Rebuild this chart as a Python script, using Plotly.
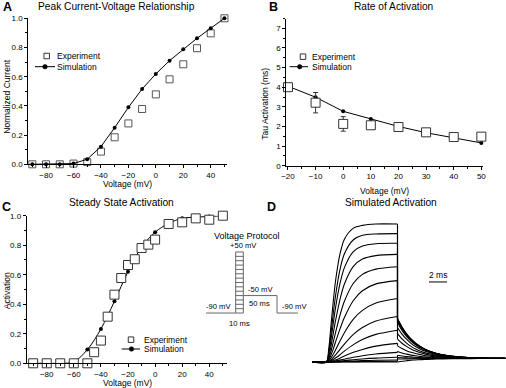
import plotly.graph_objects as go

W, H = 506, 388
FONT = "Liberation Sans, Arial, Helvetica, sans-serif"

# ---------------- Panel A: Peak current-voltage ----------------
iv_voltage = [-90, -80, -70, -60, -50, -40, -30, -20, -10, 0, 10, 20, 30, 40, 50]
iv_exp = [0, 0, 0, 0.005, 0.015, 0.087, 0.185, 0.28, 0.379, 0.479, 0.582, 0.685, 0.795, 0.897, 1.0]
iv_exp_err = [0.004, 0.004, 0.004, 0.006, 0.01, 0.012, 0.015, 0.015, 0.015, 0.018, 0.018, 0.018, 0.018, 0.015, 0.004]
iv_sim = [0, 0, 0, 0.005, 0.035, 0.121, 0.251, 0.39, 0.516, 0.619, 0.71, 0.788, 0.863, 0.932, 1.0]

# ---------------- Panel B: Rate of activation ----------------
tau_voltage = [-20, -10, 0, 10, 20, 30, 40, 50]
tau_exp = [4.0, 3.21, 2.13, 2.06, 1.97, 1.70, 1.46, 1.48]
tau_exp_err = [0.15, 0.52, 0.37, 0.1, 0.06, 0.05, 0.05, 0.05]
tau_sim = [4.05, 3.49, 2.77, 2.38, 2.0, 1.68, 1.43, 1.16]

# ---------------- Panel C: Steady state activation ----------------
ss_exp_voltage = [-90, -80, -70, -60, -50, -45, -40, -35, -30, -25, -20, -15, -10, -5, 0, 10, 20, 30, 40, 50]
ss_exp = [0, 0, 0, 0, 0, 0.075, 0.154, 0.316, 0.465, 0.578, 0.666, 0.705, 0.781, 0.804, 0.838,
          0.944, 0.955, 0.982, 0.973, 1.0]
ss_sim_voltage = [-90, -80, -70, -60, -50, -40, -30, -20, -10, 0, 10, 20, 30, 40, 50]
ss_sim = [0, 0, 0, 0.01, 0.093, 0.233, 0.42, 0.621, 0.786, 0.888, 0.948, 0.982, 0.99, 0.995, 1.0]

# ---------------- Panel D: Simulated activation traces ----------------
act_step_mV = [50, 40, 30, 20, 10, 0, -10, -20, -30, -40, -50, -60, -70, -80, -90]
act_onset_ms = 1.6
act_rise_ms = [0, 0.25, 0.5, 0.75, 1.0, 1.5, 2.0, 3.0, 4.0, 5.5, 7.9]
act_rise = [
    [0, 0.09, 0.26, 0.43, 0.58, 0.78, 0.89, 0.97, 0.99, 1.0, 1.0],
    [0, 0.067, 0.20, 0.344, 0.473, 0.667, 0.784, 0.886, 0.918, 0.928, 0.93],
    [0, 0.051, 0.156, 0.274, 0.387, 0.566, 0.684, 0.80, 0.84, 0.857, 0.86],
    [0, 0.035, 0.112, 0.203, 0.294, 0.451, 0.565, 0.693, 0.746, 0.771, 0.78],
    [0, 0.023, 0.075, 0.14, 0.209, 0.337, 0.44, 0.571, 0.635, 0.673, 0.69],
    [0, 0.014, 0.048, 0.092, 0.141, 0.238, 0.323, 0.446, 0.516, 0.566, 0.59],
    [0, 0.008, 0.028, 0.055, 0.085, 0.150, 0.212, 0.31, 0.374, 0.428, 0.46],
    [0, 0.0043, 0.0155, 0.031, 0.05, 0.09, 0.13, 0.2, 0.25, 0.297, 0.33],
    [0, 0.0024, 0.0087, 0.018, 0.029, 0.053, 0.079, 0.126, 0.163, 0.20, 0.23],
    [0, 0.0013, 0.0045, 0.0093, 0.015, 0.028, 0.043, 0.07, 0.091, 0.115, 0.135],
    [0, 0.0006, 0.002, 0.0043, 0.007, 0.0136, 0.0205, 0.034, 0.0456, 0.058, 0.07],
    [0, 0.0003, 0.001, 0.0021, 0.0034, 0.0066, 0.01, 0.0165, 0.022, 0.028, 0.034],
    [0, 0, 0.0005, 0.001, 0.0015, 0.003, 0.0044, 0.0073, 0.0098, 0.0125, 0.015],
    [0, 0, 0, 0, 0.0005, 0.001, 0.0015, 0.0024, 0.0033, 0.0042, 0.005],
    [0, 0, 0, 0, 0, 0, 0, 0, 0, 0, 0],
]
act_step_end_ms = 9.5
act_tail_ms = [0, 0.5, 1, 1.5, 2, 3, 4, 5, 7, 9, 12]
act_tail = [
    [0.315, 0.254, 0.205, 0.167, 0.137, 0.095, 0.068, 0.052, 0.035, 0.029, 0.026],
    [0.312, 0.251, 0.203, 0.166, 0.136, 0.094, 0.068, 0.052, 0.035, 0.029, 0.026],
    [0.309, 0.249, 0.201, 0.164, 0.135, 0.093, 0.067, 0.051, 0.035, 0.029, 0.026],
    [0.305, 0.246, 0.199, 0.162, 0.133, 0.092, 0.067, 0.051, 0.035, 0.029, 0.026],
    [0.297, 0.239, 0.194, 0.158, 0.130, 0.090, 0.066, 0.050, 0.035, 0.029, 0.026],
    [0.284, 0.229, 0.186, 0.152, 0.125, 0.087, 0.064, 0.049, 0.034, 0.029, 0.026],
    [0.25, 0.202, 0.165, 0.135, 0.112, 0.079, 0.059, 0.046, 0.033, 0.028, 0.026],
    [0.205, 0.167, 0.137, 0.113, 0.094, 0.068, 0.052, 0.042, 0.031, 0.027, 0.026],
    [0.166, 0.136, 0.113, 0.094, 0.079, 0.059, 0.046, 0.038, 0.030, 0.027, 0.025],
    [0.117, 0.097, 0.082, 0.070, 0.061, 0.047, 0.039, 0.034, 0.028, 0.026, 0.025],
    [0.076, 0.065, 0.057, 0.050, 0.045, 0.037, 0.033, 0.030, 0.027, 0.026, 0.025],
    [0.049, 0.044, 0.040, 0.037, 0.034, 0.031, 0.029, 0.027, 0.026, 0.025, 0.025],
    [0.033, 0.031, 0.030, 0.029, 0.028, 0.027, 0.026, 0.026, 0.025, 0.025, 0.025],
    [0.022, 0.022, 0.023, 0.023, 0.024, 0.024, 0.025, 0.025, 0.025, 0.025, 0.025],
    [0, 0.005, 0.009, 0.013, 0.015, 0.019, 0.021, 0.023, 0.024, 0.025, 0.025],
]
scalebar_ms = 2
scalebar_start_ms = 13.0
scalebar_level = 0.58

# ---------------- Voltage protocol (schematic) ----------------
protocol_levels_mV = [-90, -80, -70, -60, -50, -40, -30, -20, -10, 0, 10, 20, 30, 40, 50]
protocol_hold_mV = -90
protocol_tail_mV = -50
protocol_t = [6, 35.7, 43.3, 77, 98]  # schematic: start, step on, step off, tail off, end


def px_x(x):
    return x / W


def px_y(y):
    return 1 - y / H


fig = go.Figure()

EXP_COL = "#333333"

# ---- Panel A traces ----
fig.add_trace(go.Scatter(
    x=iv_voltage, y=iv_exp, mode="markers", xaxis="x", yaxis="y",
    marker=dict(symbol="square", size=7, color="white", line=dict(color="#555555", width=1)),
    error_y=dict(type="data", array=iv_exp_err, visible=True, color="#777777", thickness=0.8, width=1.5),
    cliponaxis=False, showlegend=False))
fig.add_trace(go.Scatter(
    x=iv_voltage, y=iv_sim, mode="lines+markers", xaxis="x", yaxis="y",
    line=dict(color="black", width=1),
    marker=dict(symbol="circle", size=4, color="black"),
    cliponaxis=False, showlegend=False))

# ---- Panel B traces ----
fig.add_trace(go.Scatter(
    x=tau_voltage, y=tau_sim, mode="lines+markers", xaxis="x2", yaxis="y2",
    line=dict(color="black", width=1),
    marker=dict(symbol="circle", size=4, color="black"),
    cliponaxis=False, showlegend=False))
fig.add_trace(go.Scatter(
    x=tau_voltage, y=tau_exp, mode="markers", xaxis="x2", yaxis="y2",
    marker=dict(symbol="square", size=9, color="white", line=dict(color=EXP_COL, width=1)),
    error_y=dict(type="data", array=tau_exp_err, visible=True, color=EXP_COL, thickness=1, width=2.5),
    cliponaxis=False, showlegend=False))

# ---- Panel C traces ----
fig.add_trace(go.Scatter(
    x=ss_sim_voltage, y=ss_sim, mode="lines+markers", xaxis="x3", yaxis="y3",
    line=dict(color="black", width=1, shape="spline"),
    marker=dict(symbol="circle", size=4, color="black"),
    cliponaxis=False, showlegend=False))
fig.add_trace(go.Scatter(
    x=ss_exp_voltage, y=ss_exp, mode="markers", xaxis="x3", yaxis="y3",
    marker=dict(symbol="square", size=9, color="white", line=dict(color=EXP_COL, width=1)),
    cliponaxis=False, showlegend=False))

# ---- Panel D traces ----
for i, v in enumerate(act_step_mV):
    xs = [0] + [act_onset_ms + s for s in act_rise_ms]
    ys = [0] + act_rise[i]
    fig.add_trace(go.Scatter(x=xs, y=ys, mode="lines", xaxis="x4", yaxis="y4",
                             line=dict(color="black", width=1.1, shape="spline", smoothing=0.8),
                             showlegend=False, hoverinfo="skip", name=f"{v} mV"))
    xt = [act_step_end_ms + s for s in act_tail_ms]
    fig.add_trace(go.Scatter(x=xt, y=act_tail[i], mode="lines", xaxis="x4", yaxis="y4",
                             line=dict(color="black", width=1.1, shape="spline", smoothing=0.8),
                             showlegend=False, hoverinfo="skip"))
# vertical jumps at the end of the step
jx, jy = [], []
for i in range(len(act_step_mV)):
    jx += [act_step_end_ms, act_step_end_ms, None]
    jy += [act_rise[i][-1], act_tail[i][0], None]
fig.add_trace(go.Scatter(x=jx, y=jy, mode="lines", xaxis="x4", yaxis="y4",
                         line=dict(color="black", width=1.1), showlegend=False, hoverinfo="skip"))
# scale bar
fig.add_trace(go.Scatter(x=[scalebar_start_ms, scalebar_start_ms + scalebar_ms],
                         y=[scalebar_level, scalebar_level], mode="lines", xaxis="x4", yaxis="y4",
                         line=dict(color="black", width=1), showlegend=False, hoverinfo="skip"))

# ---- Voltage protocol ----
PCOL = "#666666"
t0, t1, t2, t3, t4 = protocol_t
px_, py_ = [], []
for lv in protocol_levels_mV:
    px_ += [t1, t2, None]
    py_ += [lv, lv, None]
top = max(protocol_levels_mV)
px_ += [t0, t1, t1, None, t2, t2, None, t2, t3, t3, t4]
py_ += [protocol_hold_mV, protocol_hold_mV, top, None, top, protocol_hold_mV, None,
        protocol_tail_mV, protocol_tail_mV, protocol_hold_mV, protocol_hold_mV]
fig.add_trace(go.Scatter(x=px_, y=py_, mode="lines", xaxis="x5", yaxis="y5",
                         line=dict(color=PCOL, width=1), showlegend=False, hoverinfo="skip"))

# ---------------- Layout ----------------
tickfont = dict(family=FONT, size=8, color="black")


def ax(domain, rng, dtick, minor_dtick, fmt=None):
    d = dict(domain=domain, range=rng, showline=True, linecolor="black", linewidth=1,
             ticks="outside", ticklen=3, tickwidth=1, tickcolor="black",
             dtick=dtick, tick0=0, showgrid=False, zeroline=False, automargin=False,
             tickfont=tickfont, fixedrange=True,
             minor=dict(dtick=minor_dtick, tick0=0, ticks="outside", ticklen=2,
                        tickcolor="black", showgrid=False))
    if fmt:
        d["tickformat"] = fmt
    return d


hidden = dict(visible=False, showgrid=False, zeroline=False, automargin=False, fixedrange=True)

layout = dict(
    width=W, height=H, template="none",
    margin=dict(l=0, r=0, t=0, b=0, pad=0),
    paper_bgcolor="white", plot_bgcolor="rgba(0,0,0,0)",
    showlegend=False,
    font=dict(family=FONT, color="black"),
    xaxis=ax([px_x(28.2), px_x(227.2)], [-93, 52], 20, 10),
    yaxis=ax([px_y(164.3), px_y(18.3)], [0, 1.0], 0.2, 0.1, ".1f"),
    xaxis2=ax([px_x(286.3), px_x(483)], [-20.6, 50.6], 10, 5),
    yaxis2=ax([px_y(165.7), px_y(18.5)], [0, 7.5], 1, 0.5),
    xaxis3=ax([px_x(26.8), px_x(226.9)], [-94.7, 53], 20, 10),
    yaxis3=ax([px_y(363.3), px_y(215.7)], [0, 1.0], 0.2, 0.1, ".1f"),
    xaxis4=dict(domain=[px_x(312), px_x(505.5)], range=[0, 21.5], anchor="y4", **hidden),
    yaxis4=dict(domain=[px_y(375.8), px_y(210.2)], range=[-0.1, 1.1], anchor="x4", **hidden),
    xaxis5=dict(domain=[px_x(200), px_x(300)], range=[0, 100], anchor="y5", **hidden),
    yaxis5=dict(domain=[px_y(317.4), px_y(247.6)], range=[-100, 60], anchor="x5", **hidden),
)
layout["xaxis"]["anchor"] = "y"
layout["yaxis"]["anchor"] = "x"
layout["xaxis2"]["anchor"] = "y2"
layout["yaxis2"]["anchor"] = "x2"
layout["xaxis3"]["anchor"] = "y3"
layout["yaxis3"]["anchor"] = "x3"

annotations = []


def text(t, x, y, size, bold=False, angle=0, xanchor="center"):
    annotations.append(dict(
        text=f"<b>{t}</b>" if bold else t, x=px_x(x), y=px_y(y), xref="paper", yref="paper",
        xanchor=xanchor, yanchor="middle", showarrow=False, textangle=angle, borderpad=0,
        font=dict(family=FONT, size=size, color="black")))


# panel letters and titles
text("A", 7, 7, 12.5, bold=True)
text("B", 273.8, 7, 12.5, bold=True)
text("C", 6, 207.3, 12.5, bold=True)
text("D", 271.7, 207.3, 12.5, bold=True)
text("Peak Current-Voltage Relationship", 116.7, 6.5, 10.2)
text("Rate of Activation", 393, 6.5, 10.2)
text("Steady State Activation", 121.7, 202.5, 10.2)
text("Simulated Activation", 391, 202.5, 10.2)

# axis titles
text("Voltage (mV)", 127.3, 184, 8.5)
text("Normalized Current", 7, 96.7, 8.5, angle=-90)
text("Voltage (mV)", 384.7, 190.5, 8.5)
text("Tau Activation (ms)", 264.7, 104, 8.5, angle=-90)
text("Voltage (mV)", 127.7, 382.5, 8.5)
text("Activation", 6.5, 290.7, 8.5, angle=-90)

# legends text
for (lx, ly1, ly2) in [(56, 56, 66.7), (310.7, 56.7, 66.7), (143.3, 339.7, 349)]:
    text("Experiment", lx, ly1, 8.5, xanchor="left")
    text("Simulation", lx, ly2, 8.5, xanchor="left")

# protocol texts
text("Voltage Protocol", 246.7, 236, 9)
text("+50 mV", 243, 245, 7.6)
text("-50 mV", 260.5, 289, 7.6)
text("50 ms", 259.5, 303.5, 7.6)
text("-90 mV", 218.5, 306.5, 7.6)
text("-90 mV", 294, 306, 7.6)
text("10 ms", 239, 323.5, 7.6)

# scale bar label
annotations.append(dict(text="2 ms", x=scalebar_start_ms + scalebar_ms / 2, y=scalebar_level,
                        xref="x4", yref="y4", xanchor="center", yanchor="bottom", yshift=1,
                        showarrow=False, borderpad=0, font=dict(family=FONT, size=8.5, color="black")))

layout["annotations"] = annotations

# legend glyphs (layout shapes, pixel positions)
shapes = []


def sq(cx, cy, s=5.5):
    shapes.append(dict(type="rect", xref="paper", yref="paper",
                       x0=px_x(cx - s / 2), x1=px_x(cx + s / 2), y0=px_y(cy + s / 2), y1=px_y(cy - s / 2),
                       line=dict(color=EXP_COL, width=1), fillcolor="white"))


def simglyph(xa, xb, xd, cy):
    shapes.append(dict(type="line", xref="paper", yref="paper",
                       x0=px_x(xa), x1=px_x(xb), y0=px_y(cy), y1=px_y(cy),
                       line=dict(color="black", width=1)))
    r = 2.3
    shapes.append(dict(type="circle", xref="paper", yref="paper",
                       x0=px_x(xd - r), x1=px_x(xd + r), y0=px_y(cy + r), y1=px_y(cy - r),
                       line=dict(color="black", width=0.5), fillcolor="black"))


sq(46.7, 56)
simglyph(35, 55, 45, 66.7)
sq(303, 56.7)
simglyph(289.7, 308, 299.7, 66.7)
sq(131, 339.7)
simglyph(121.7, 140, 131.5, 349)

layout["shapes"] = shapes

fig.update_layout(**layout)
fig.write_html("out.html", include_plotlyjs=True,
               config=dict(displayModeBar=False, staticPlot=True),
               post_script="document.body.style.margin='0';document.body.style.padding='0';"
                           "document.documentElement.style.overflow='hidden';")
